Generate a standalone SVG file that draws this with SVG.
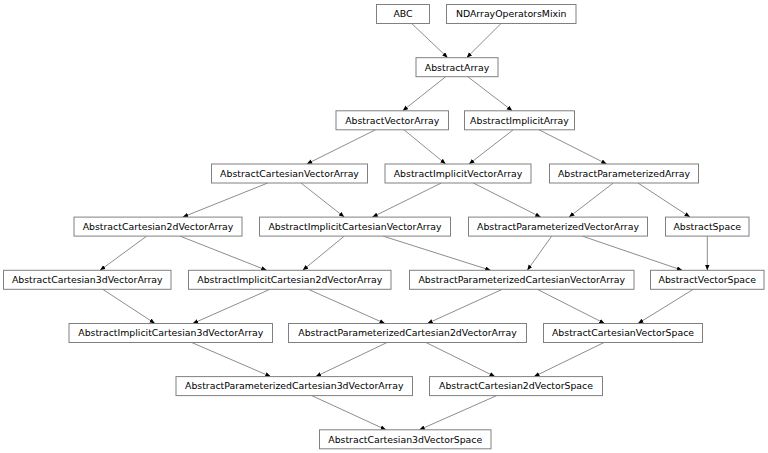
<svg xmlns="http://www.w3.org/2000/svg" width="768" height="453" viewBox="0 0 768 453">
<style>
.n rect{fill:#fff;stroke:#808080;stroke-width:1}
.n text{font-family:"DejaVu Sans",sans-serif;font-size:9.35px;fill:#000;text-anchor:middle}
.e line{stroke:#404040;stroke-width:0.6;marker-end:url(#ah)}
</style>
<defs>
<marker id="ah" markerUnits="userSpaceOnUse" markerWidth="6" markerHeight="5" refX="5.5" refY="2.25" orient="auto">
<path d="M0,0 L5.5,2.25 L0,4.5 z" fill="#000"/>
</marker>
</defs>
<rect width="768" height="453" fill="#fff"/>
<g class="e">
<line x1="411.7" y1="23.5" x2="447.7" y2="57.7"/>
<line x1="501" y1="23.5" x2="466.7" y2="57.7"/>
<line x1="445.7" y1="76.7" x2="402.7" y2="110.8"/>
<line x1="467.7" y1="76.7" x2="512.3" y2="110.8"/>
<line x1="375.5" y1="129.8" x2="306.7" y2="164"/>
<line x1="404" y1="129.8" x2="445.7" y2="164"/>
<line x1="513.2" y1="129.8" x2="469" y2="164"/>
<line x1="539" y1="129.8" x2="606.7" y2="164"/>
<line x1="267.7" y1="183" x2="182.7" y2="217.1"/>
<line x1="301" y1="183" x2="344.3" y2="217.1"/>
<line x1="441.3" y1="183" x2="372.3" y2="217.1"/>
<line x1="473.3" y1="183" x2="540.7" y2="217.1"/>
<line x1="613.3" y1="183" x2="569" y2="217.1"/>
<line x1="638" y1="183" x2="690" y2="217.1"/>
<line x1="146.7" y1="236.1" x2="100" y2="270.3"/>
<line x1="180" y1="236.1" x2="266.7" y2="270.3"/>
<line x1="344.3" y1="236.1" x2="302.7" y2="270.3"/>
<line x1="383" y1="236.1" x2="490.7" y2="270.3"/>
<line x1="551.7" y1="236.1" x2="527.3" y2="270.3"/>
<line x1="582.3" y1="236.1" x2="682.3" y2="270.3"/>
<line x1="707.3" y1="236.1" x2="707.3" y2="270.3"/>
<line x1="102.7" y1="289.3" x2="155" y2="323.5"/>
<line x1="270" y1="289.3" x2="192.7" y2="323.5"/>
<line x1="308.3" y1="289.3" x2="385" y2="323.5"/>
<line x1="502.3" y1="289.3" x2="427.3" y2="323.5"/>
<line x1="537.3" y1="289.3" x2="604.7" y2="323.5"/>
<line x1="693.3" y1="289.3" x2="638" y2="323.5"/>
<line x1="191.7" y1="342.5" x2="270.7" y2="376.6"/>
<line x1="387" y1="342.5" x2="315.7" y2="376.6"/>
<line x1="426" y1="342.5" x2="495" y2="376.6"/>
<line x1="604" y1="342.5" x2="534" y2="376.6"/>
<line x1="311.7" y1="395.6" x2="386" y2="429.8"/>
<line x1="496.7" y1="395.6" x2="419.3" y2="429.8"/>
</g>
<g id="ABC" class="n"><rect x="376.5" y="4.5" width="53" height="19"/><text x="403" y="17.3">ABC</text></g>
<g id="NDArrayOperatorsMixin" class="n"><rect x="446.5" y="4.5" width="129.5" height="19"/><text x="511.25" y="17.3">NDArrayOperatorsMixin</text></g>
<g id="AbstractArray" class="n"><rect x="416" y="57.7" width="82" height="19"/><text x="457" y="70.5">AbstractArray</text></g>
<g id="AbstractVectorArray" class="n"><rect x="336" y="110.8" width="112.5" height="19"/><text x="392.25" y="123.6">AbstractVectorArray</text></g>
<g id="AbstractImplicitArray" class="n"><rect x="464.5" y="110.8" width="110" height="19"/><text x="519.5" y="123.6">AbstractImplicitArray</text></g>
<g id="AbstractCartesianVectorArray" class="n"><rect x="211.5" y="164" width="156" height="19"/><text x="289.5" y="176.8">AbstractCartesianVectorArray</text></g>
<g id="AbstractImplicitVectorArray" class="n"><rect x="385" y="164" width="146" height="19"/><text x="458" y="176.8">AbstractImplicitVectorArray</text></g>
<g id="AbstractParameterizedArray" class="n"><rect x="549.5" y="164" width="149" height="19"/><text x="624" y="176.8">AbstractParameterizedArray</text></g>
<g id="AbstractCartesian2dVectorArray" class="n"><rect x="74" y="217.1" width="168" height="19"/><text x="158" y="229.9">AbstractCartesian2dVectorArray</text></g>
<g id="AbstractImplicitCartesianVectorArray" class="n"><rect x="259.5" y="217.1" width="191" height="19"/><text x="355" y="229.9">AbstractImplicitCartesianVectorArray</text></g>
<g id="AbstractParameterizedVectorArray" class="n"><rect x="468.5" y="217.1" width="179" height="19"/><text x="558" y="229.9">AbstractParameterizedVectorArray</text></g>
<g id="AbstractSpace" class="n"><rect x="665.5" y="217.1" width="83.5" height="19"/><text x="707.25" y="229.9">AbstractSpace</text></g>
<g id="AbstractCartesian3dVectorArray" class="n"><rect x="3.5" y="270.3" width="167.5" height="19"/><text x="87.25" y="283.1">AbstractCartesian3dVectorArray</text></g>
<g id="AbstractImplicitCartesian2dVectorArray" class="n"><rect x="188.5" y="270.3" width="202.5" height="19"/><text x="289.75" y="283.1">AbstractImplicitCartesian2dVectorArray</text></g>
<g id="AbstractParameterizedCartesianVectorArray" class="n"><rect x="409.5" y="270.3" width="224.5" height="19"/><text x="521.75" y="283.1">AbstractParameterizedCartesianVectorArray</text></g>
<g id="AbstractVectorSpace" class="n"><rect x="650.5" y="270.3" width="113.5" height="19"/><text x="707.25" y="283.1">AbstractVectorSpace</text></g>
<g id="AbstractImplicitCartesian3dVectorArray" class="n"><rect x="69" y="323.5" width="203.5" height="19"/><text x="170.75" y="336.3">AbstractImplicitCartesian3dVectorArray</text></g>
<g id="AbstractParameterizedCartesian2dVectorArray" class="n"><rect x="288.5" y="323.5" width="238" height="19"/><text x="407.5" y="336.3">AbstractParameterizedCartesian2dVectorArray</text></g>
<g id="AbstractCartesianVectorSpace" class="n"><rect x="543.5" y="323.5" width="159" height="19"/><text x="623" y="336.3">AbstractCartesianVectorSpace</text></g>
<g id="AbstractParameterizedCartesian3dVectorArray" class="n"><rect x="176" y="376.6" width="236.5" height="19"/><text x="294.25" y="389.4">AbstractParameterizedCartesian3dVectorArray</text></g>
<g id="AbstractCartesian2dVectorSpace" class="n"><rect x="429.5" y="376.6" width="173" height="19"/><text x="516" y="389.4">AbstractCartesian2dVectorSpace</text></g>
<g id="AbstractCartesian3dVectorSpace" class="n"><rect x="319.5" y="429.8" width="171.5" height="19"/><text x="405.25" y="442.6">AbstractCartesian3dVectorSpace</text></g>
</svg>
